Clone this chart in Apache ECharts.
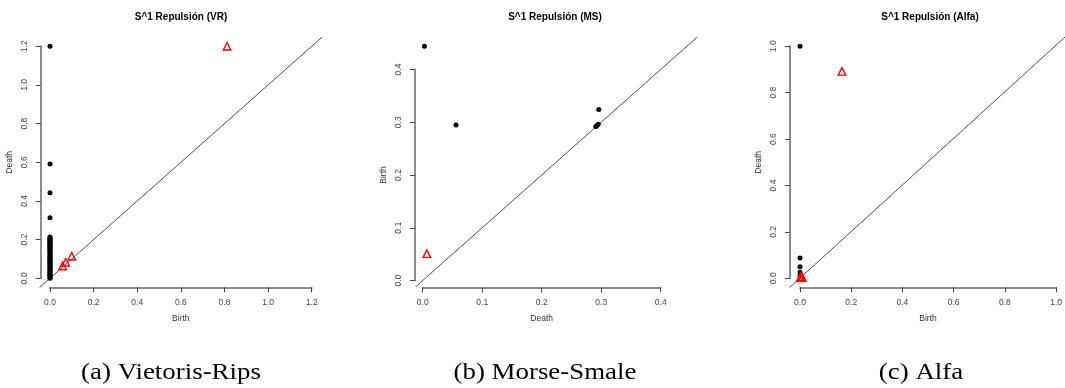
<!DOCTYPE html>
<html>
<head>
<meta charset="utf-8">
<script src="https://cdn.jsdelivr.net/npm/echarts@6/dist/echarts.min.js"></script>
<style>
html,body{margin:0;padding:0;background:#fff;}
#c{width:1065px;height:388px;}
</style>
</head>
<body>
<div id="c"></div>
<script>
// ---- Data ----
const titles = ['S^1 Repulsión (VR)', 'S^1 Repulsión (MS)', 'S^1 Repulsión (Alfa)'];
const captions = ['(a) Vietoris-Rips', '(b) Morse-Smale', '(c) Alfa'];
const xNames = ['Birth', 'Death', 'Birth'];
const yNames = ['Death', 'Birth', 'Death'];

// Panel (a) Vietoris-Rips: black points (dimension 0) and red triangles (dimension 1)
const vrBlack = [
  [0, 1.2], [0, 0.591], [0, 0.443], [0, 0.313],
  [0, 0.214], [0, 0.209], [0, 0.204], [0, 0.199], [0, 0.195], [0, 0.19], [0, 0.186], [0, 0.181],
  [0, 0.176], [0, 0.172], [0, 0.167], [0, 0.162], [0, 0.158], [0, 0.153], [0, 0.148], [0, 0.143],
  [0, 0.138], [0, 0.133], [0, 0.127], [0, 0.119], [0, 0.114], [0, 0.109], [0, 0.104], [0, 0.099],
  [0, 0.094], [0, 0.089], [0, 0.084], [0, 0.079], [0, 0.074], [0, 0.069], [0, 0.064], [0, 0.059],
  [0, 0.054], [0, 0.049], [0, 0.044], [0, 0.039], [0, 0.034], [0, 0.029], [0, 0.024], [0, 0.019],
  [0, 0.014], [0, 0.009], [0, 0.004], [0, 0.0]
];
const vrRed = [[0.812, 1.2], [0.058, 0.064], [0.072, 0.083], [0.1, 0.114]];

// Panel (b) Morse-Smale
const msBlack = [[0.003, 0.444], [0.056, 0.295], [0.296, 0.324], [0.291, 0.292], [0.293, 0.294], [0.295, 0.296]];
const msRed = [[0.007, 0.051]];

// Panel (c) Alfa
const alBlack = [[0, 1.0], [0, 0.0875], [0, 0.05], [0, 0.026], [0, 0.012]];
const alRed = [[0.164, 0.892], [0.002, 0.003], [0.006, 0.006], [0.009, 0.003], [0.004, 0.009]];

// Axis ranges and plot-region limits (used by the diagonal)
const axisMax = [1.2, 0.4, 1.0];
const axisStep = [0.2, 0.1, 0.2];
const plotLo = [-0.048, -0.012, -0.04];
const plotHi = [1.248, 0.4615, 1.04];

// ---- Layout ----
const grids = [
  {left: 50, top: 46.3, width: 261.7, height: 232},
  {left: 422.7, top: 69.5, width: 238, height: 211},
  {left: 800, top: 46.3, width: 260.7, height: 232}
];
const xOffset = [9, 7, 9];
const yOffset = [9.3, 7.7, 10];
const blackSets = [vrBlack, msBlack, alBlack];
const redSets = [vrRed, msRed, alRed];
const titleX = [181, 555, 930];
const captionX = [171, 545, 921];

const allGrids = grids.slice();
const xAxes = [], yAxes = [], series = [], graphics = [];
for (let i = 0; i < 3; i++) {
  const common = {
    gridIndex: i, type: 'value', min: 0, max: axisMax[i], interval: axisStep[i],
    splitLine: {show: false},
    axisLine: {show: true, onZero: false, lineStyle: {color: '#8c8c8c', width: 2}},
    axisTick: {show: true, length: 5, lineStyle: {color: '#444', width: 1}},
    nameLocation: 'middle',
    nameTextStyle: {fontFamily: 'Liberation Sans', fontSize: 8.5, color: '#333'}
  };
  xAxes.push(Object.assign({}, common, {
    position: 'bottom', offset: xOffset[i], name: xNames[i], nameGap: 27,
    axisLabel: {fontFamily: 'Liberation Sans', fontSize: 8.5, color: '#444', margin: 11,
      formatter: v => v.toFixed(1)}
  }));
  yAxes.push(Object.assign({}, common, {
    position: 'left', offset: yOffset[i], name: yNames[i], nameGap: 27, nameRotate: 90,
    axisLabel: {fontFamily: 'Liberation Sans', fontSize: 8.5, color: '#444', margin: 12, rotate: 90,
      formatter: v => v.toFixed(1)}
  }));
  series.push({
    type: 'scatter', xAxisIndex: i, yAxisIndex: i, clip: false, silent: true,
    data: blackSets[i], symbol: 'circle', symbolSize: 5,
    itemStyle: {color: '#000', opacity: 1}, z: 3
  });
  series.push({
    type: 'scatter', xAxisIndex: i, yAxisIndex: i, clip: false, silent: true,
    data: redSets[i], symbol: 'triangle', symbolSize: 7.5,
    itemStyle: {color: 'rgba(255,255,255,0)', borderColor: '#ff0000', borderWidth: 1.4, opacity: 1}, z: 4
  });
  graphics.push({
    type: 'text', x: titleX[i], y: 17,
    style: {text: titles[i], fill: '#000', textAlign: 'center', textVerticalAlign: 'middle',
      fontFamily: 'Liberation Sans', fontSize: 10, fontWeight: 'bold'}
  });
  graphics.push({
    type: 'text', x: captionX[i], y: 373, scaleX: 1.12,
    style: {text: captions[i], fill: '#000', textAlign: 'center', textVerticalAlign: 'middle',
      fontFamily: 'Liberation Serif', fontSize: 24}
  });
}

// Hidden plot-region grids carrying the diagonal (birth = death)
for (let i = 0; i < 3; i++) {
  const g = grids[i];
  const sx = g.width / axisMax[i], sy = g.height / axisMax[i];
  const left = g.left + plotLo[i] * sx;
  const right = g.left + plotHi[i] * sx;
  const bottom = g.top + g.height - plotLo[i] * sy;
  const top = g.top + g.height - plotHi[i] * sy;
  allGrids.push({left: left, top: top, width: right - left, height: bottom - top});
  const k = 3 + i;
  const hidden = {gridIndex: k, type: 'value', min: plotLo[i], max: plotHi[i], show: false};
  xAxes.push(Object.assign({}, hidden));
  yAxes.push(Object.assign({}, hidden));
  series.push({
    type: 'line', xAxisIndex: k, yAxisIndex: k, silent: true,
    data: [[plotLo[i], plotLo[i]], [plotHi[i], plotHi[i]]],
    symbol: 'none', lineStyle: {color: '#222', width: 0.8}, z: 1
  });
}

const chart = echarts.init(document.getElementById('c'), null, {renderer: 'canvas'});
chart.setOption({
  animation: false,
  backgroundColor: '#fff',
  grid: allGrids,
  xAxis: xAxes,
  yAxis: yAxes,
  series: series,
  graphic: graphics
});
</script>
</body>
</html>
